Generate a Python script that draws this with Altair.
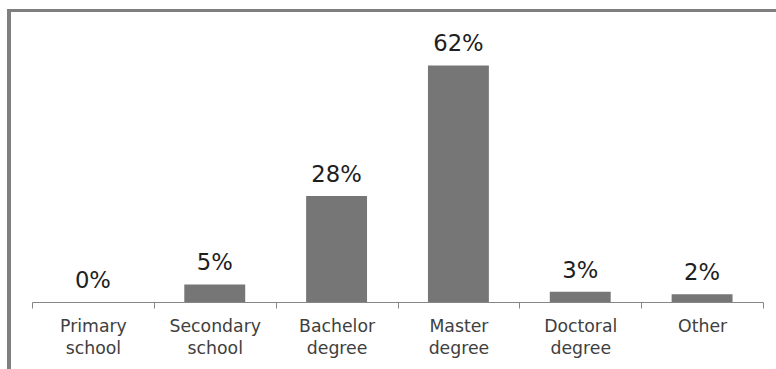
import altair as alt
import pandas as pd

categories = ["Primary school", "Secondary school", "Bachelor degree", "Master degree", "Doctoral degree", "Other"]
values = [0.0, 4.6, 27.8, 62.0, 2.7, 2.0]
labels = ["0%", "5%", "28%", "62%", "3%", "2%"]

df = pd.DataFrame({"cat": categories, "val": values, "lab": labels})

FONT = "DejaVu Sans"

x_enc = alt.X(
    "cat:N",
    sort=None,
    title=None,
    scale=alt.Scale(paddingInner=0, paddingOuter=0),
    axis=alt.Axis(
        labelAngle=0,
        labelExpr="split(datum.label, ' ')",
        labelFont=FONT,
        labelFontSize=17.3,
        labelColor="#404040",
        labelLineHeight=22,
        labelPadding=9,
        labelBaseline="top",
        tickBand="extent",
        tickSize=6,
        tickColor="#868686",
        domainColor="#868686",
        domainWidth=1,
        tickWidth=1,
        grid=False,
    ),
)
y_enc = alt.Y("val:Q", scale=alt.Scale(domain=[0, 76], nice=False, zero=True), axis=None)

base = alt.Chart(df)
bars = base.mark_bar(color="#767676", width={"band": 0.5}).encode(x=x_enc, y=y_enc)
text = base.mark_text(
    baseline="alphabetic", dy=-14, font=FONT, fontSize=22.7, color="#1e1e1e"
).encode(x=alt.X("cat:N", sort=None), y="val:Q", text="lab:N")

frame_left = alt.Chart(df).mark_rule(color="#7f7f7f", strokeWidth=3).encode(
    x=alt.value(-23), y=alt.value(-3), y2=alt.value(400)
)
frame_top = alt.Chart(df).mark_rule(color="#7f7f7f", strokeWidth=3).encode(
    x=alt.value(-24.5), x2=alt.value(800), y=alt.value(-1.5)
)

chart = (
    alt.layer(frame_left, frame_top, bars, text)
    .properties(
        width=731,
        height=290,
        background="white",
        autosize=alt.AutoSizeParams(type="none"),
        padding={"left": 32, "top": 12, "right": 13, "bottom": 67},
    )
    .configure_view(stroke=None, strokeWidth=0)
)

chart.save("out.html", embed_options={"renderer": "svg", "actions": False})
